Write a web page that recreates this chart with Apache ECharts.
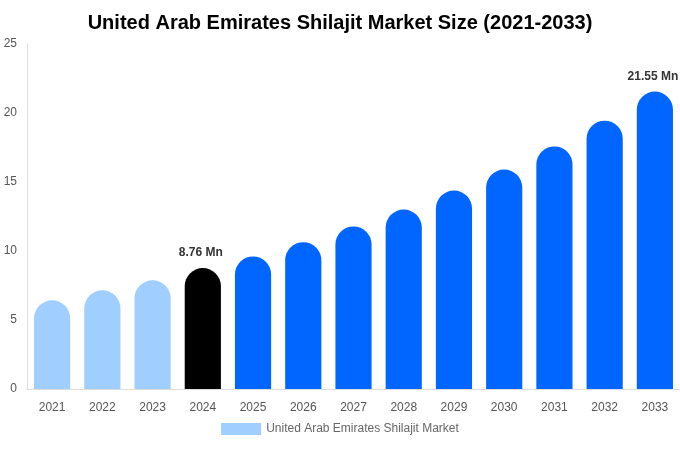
<!DOCTYPE html>
<html><head><meta charset="utf-8">
<script src="https://cdn.jsdelivr.net/npm/echarts@6/dist/echarts.min.js"></script>
<style>html,body{margin:0;padding:0;background:#fff}#c{width:680px;height:450px}</style>
</head><body><div id="c"></div>
<script>
const categories = ['2021','2022','2023','2024','2025','2026','2027','2028','2029','2030','2031','2032','2033'];
const values = [6.43, 7.15, 7.88, 8.76, 9.61, 10.64, 11.78, 13.0, 14.38, 15.9, 17.58, 19.44, 21.55];
const labelled = {'2024': '8.76 Mn', '2033': '21.55 Mn'};
const seriesName = 'United Arab Emirates Shilajit Market';
const colorHist = '#a0cefe', colorBase = '#000000', colorFcst = '#0066ff';

const data = values.map((v, i) => {
  const yr = +categories[i];
  const c = yr < 2024 ? colorHist : (yr === 2024 ? colorBase : colorFcst);
  const d = {value: v, itemStyle: {color: c}};
  if (labelled[categories[i]]) {
    d.label = {show: true, position: 'top', formatter: labelled[categories[i]], fontWeight: 'bold', fontSize: 12, color: '#333', distance: 9, offset: [-2, 0]};
  }
  return d;
});

const chart = echarts.init(document.getElementById('c'));
chart.setOption({
  animation: false,
  title: {text: 'United Arab Emirates Shilajit Market Size (2021-2033)', left: 'center', top: 8,
    textStyle: {fontSize: 20, fontWeight: 'bold', color: '#000', fontFamily: 'Liberation Sans, Arial, sans-serif'}},
  grid: {left: 27, right: 0, top: 44, bottom: 61, containLabel: false},
  legend: {bottom: 10, left: 'center', itemWidth: 40, itemHeight: 12, icon: 'rect',
    textStyle: {color: '#666', fontSize: 12, fontFamily: 'Liberation Sans, Arial, sans-serif'},
    data: [{name: seriesName, itemStyle: {color: colorHist}}]},
  xAxis: {type: 'category', data: categories,
    axisLine: {lineStyle: {color: '#ddd'}}, axisTick: {show: false},
    axisLabel: {color: '#555', fontSize: 12, margin: 13, fontFamily: 'Liberation Sans, Arial, sans-serif'}},
  yAxis: {type: 'value', min: 0, max: 25, interval: 5,
    axisLine: {show: true, lineStyle: {color: '#ddd'}}, axisTick: {show: false},
    splitLine: {show: false},
    axisLabel: {color: '#555', fontSize: 12, margin: 10, fontFamily: 'Liberation Sans, Arial, sans-serif'}},
  series: [{name: seriesName, type: 'bar', data: data, barWidth: '72%',
    itemStyle: {borderRadius: [18, 18, 0, 0], color: colorHist}}]
});
</script></body></html>
